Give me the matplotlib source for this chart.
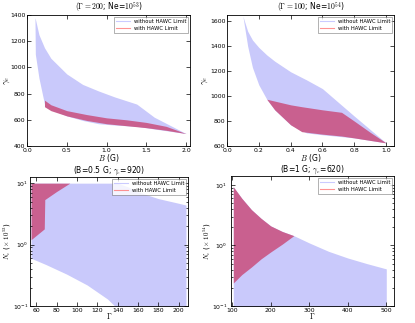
import matplotlib
matplotlib.use("Agg")
import matplotlib.pyplot as plt
import numpy as np

plt.rcParams['mathtext.fontset'] = 'cm'
plt.rcParams['font.family'] = ['DejaVu Sans']

# ---- Top-left: Gamma=200, Ne=1e53 ----
tl_blue_B = [0.10, 0.105, 0.15, 0.22, 0.3, 0.5, 0.7, 0.9, 1.1, 1.38, 1.6, 2.0]
tl_blue_hi = [1380, 1370, 1250, 1150, 1070, 950, 870, 820, 775, 720, 620, 495]
tl_blue_lo = [1380, 1100, 920, 720, 680, 630, 595, 570, 560, 550, 530, 495]
tl_pink_B = [0.22, 0.3, 0.5, 0.75, 1.0, 1.25, 1.5, 1.75, 2.0]
tl_pink_hi = [750, 715, 670, 640, 615, 600, 580, 550, 495]
tl_pink_lo = [700, 670, 630, 595, 570, 555, 540, 520, 495]

# ---- Top-right: Gamma=100, Ne=1e54 ----
tr_blue_B = [0.10, 0.13, 0.16, 0.2, 0.25, 0.3, 0.4, 0.5, 0.6, 0.8, 1.0]
tr_blue_hi = [1640, 1520, 1450, 1390, 1330, 1280, 1195, 1130, 1060, 840, 625]
tr_blue_lo = [1640, 1400, 1230, 1090, 975, 890, 770, 705, 690, 665, 625]
tr_pink_B = [0.25, 0.3, 0.35, 0.4, 0.47, 0.6, 0.72, 0.8, 0.9, 1.0]
tr_pink_hi = [975, 960, 945, 930, 915, 890, 870, 800, 710, 625]
tr_pink_lo = [975, 890, 830, 770, 715, 695, 680, 665, 645, 625]

# ---- Bottom-left: B=0.5 G, gamma_e=920 ----
bl_blue_G = [55, 70, 90, 110, 130, 140, 150, 160, 180, 200, 207]
bl_blue_hi = [10, 10, 10, 10, 10, 10, 8.7, 7.2, 5.6, 4.7, 4.4]
bl_blue_lo = [0.6, 0.47, 0.33, 0.22, 0.13, 0.09, 0.07, 0.06, 0.05, 0.05, 0.05]
bl_pink_G = [55, 68, 68.5, 80, 93]
bl_pink_hi = [10, 10, 10, 10, 10]
bl_pink_lo = [1.2, 1.8, 5.4, 7.3, 10]

# ---- Bottom-right: B=1 G, gamma_e=620 ----
br_blue_G = [103, 125, 150, 175, 200, 230, 260, 300, 350, 400, 450, 500]
br_blue_hi = [9.3, 6.0, 3.9, 2.8, 2.1, 1.7, 1.45, 1.1, 0.8, 0.62, 0.5, 0.41]
br_blue_lo = [0.05] * 12
br_pink_G = [103, 125, 150, 175, 200, 230, 260]
br_pink_hi = [9.3, 6.0, 3.9, 2.8, 2.1, 1.7, 1.45]
br_pink_lo = [0.24, 0.33, 0.44, 0.6, 0.78, 1.05, 1.45]

BLUE = '#c9c9fb'
PINK = '#c9608f'
FS = 4.4

fig = plt.figure(figsize=(4.15, 3.23), dpi=100)
W, H = 415, 323

def ax_at(l, r, t, b):
    return fig.add_axes([l / W, 1 - b / H, (r - l) / W, (b - t) / H])

def style(ax):
    ax.tick_params(direction='in', which='both', top=True, right=True,
                   labelsize=FS, length=3, width=0.5, pad=1.2)
    ax.tick_params(which='minor', length=1.5)
    for s in ax.spines.values():
        s.set_linewidth(0.6)

def legend(ax):
    h1, = ax.plot([], [], color='#9999ff', alpha=0.5, lw=0.8, label='without HAWC Limit')
    h2, = ax.plot([], [], color='#ff6666', alpha=0.7, lw=0.8, label='with HAWC Limit')
    ax.legend(handles=[h1, h2], loc='upper right', fontsize=3.8, frameon=True,
              fancybox=False, edgecolor='#555555', handlelength=2.5,
              borderpad=0.4, labelspacing=0.5, borderaxespad=0.3).get_frame().set_linewidth(0.4)

def labels(ax, xl, yl, ylx, xly, ysize):
    ax.set_xlabel(xl, fontsize=5.5)
    ax.set_ylabel(yl, fontsize=ysize)
    ax.xaxis.set_label_coords(0.5, xly)
    ax.yaxis.set_label_coords(ylx, 0.5)

# TL
ax = ax_at(27, 190, 15, 146)
ax.fill_between(tl_blue_B, tl_blue_lo, tl_blue_hi, color=BLUE, lw=0)
ax.fill_between(tl_pink_B, tl_pink_lo, tl_pink_hi, color=PINK, lw=0)
ax.set_xlim(0, 2.05)
ax.set_ylim(400, 1400)
ax.set_xticks([0.0, 0.5, 1.0, 1.5, 2.0])
ax.set_yticks([400, 600, 800, 1000, 1200, 1400])
ax.set_title(r'$(\Gamma=200$; Ne=$10^{53}$)', fontsize=5.5, pad=1.5)
labels(ax, r'$B$ (G)', r'$\gamma_e$', -0.095, -0.045, 6)
style(ax); legend(ax)

# TR
ax = ax_at(227, 394, 15, 146)
ax.fill_between(tr_blue_B, tr_blue_lo, tr_blue_hi, color=BLUE, lw=0)
ax.fill_between(tr_pink_B, tr_pink_lo, tr_pink_hi, color=PINK, lw=0)
ax.set_xlim(0, 1.05)
ax.set_ylim(600, 1650)
ax.set_xticks([0.0, 0.2, 0.4, 0.6, 0.8, 1.0])
ax.set_yticks([600, 800, 1000, 1200, 1400, 1600])
ax.set_title(r'$(\Gamma=100$; Ne=$10^{54}$)', fontsize=5.5, pad=1.5)
labels(ax, r'$B$ (G)', r'$\gamma_e$', -0.1, -0.045, 6)
style(ax); legend(ax)

# BL
ax = ax_at(30, 188, 177, 306)
ax.fill_between(bl_blue_G, bl_blue_lo, bl_blue_hi, color=BLUE, lw=0)
ax.fill_between(bl_pink_G, bl_pink_lo, bl_pink_hi, color=PINK, lw=0)
ax.set_yscale('log')
ax.set_xlim(54, 209)
ax.set_ylim(0.1, 12.6)
ax.set_xticks([60, 80, 100, 120, 140, 160, 180, 200])
ax.set_title(r'(B=0.5 G; $\gamma_e$=920)', fontsize=5.5, pad=1.5)
labels(ax, r'$\Gamma$', r'$N_e$ ($\times$ $10^{53}$)', -0.105, -0.04, 5)
style(ax); legend(ax)

# BR
ax = ax_at(231, 394, 176, 306)
ax.fill_between(br_blue_G, br_blue_lo, br_blue_hi, color=BLUE, lw=0)
ax.fill_between(br_pink_G, br_pink_lo, br_pink_hi, color=PINK, lw=0)
ax.set_yscale('log')
ax.set_xlim(97, 520)
ax.set_ylim(0.1, 14)
ax.set_xticks([100, 200, 300, 400, 500])
ax.set_title(r'(B=1 G; $\gamma_e$=620)', fontsize=5.5, pad=1.5)
labels(ax, r'$\Gamma$', r'$N_e$ ($\times$ $10^{54}$)', -0.11, -0.04, 5)
style(ax); legend(ax)
ax.tick_params(axis='y', pad=2.5)

fig.savefig('out.png', dpi=100)
